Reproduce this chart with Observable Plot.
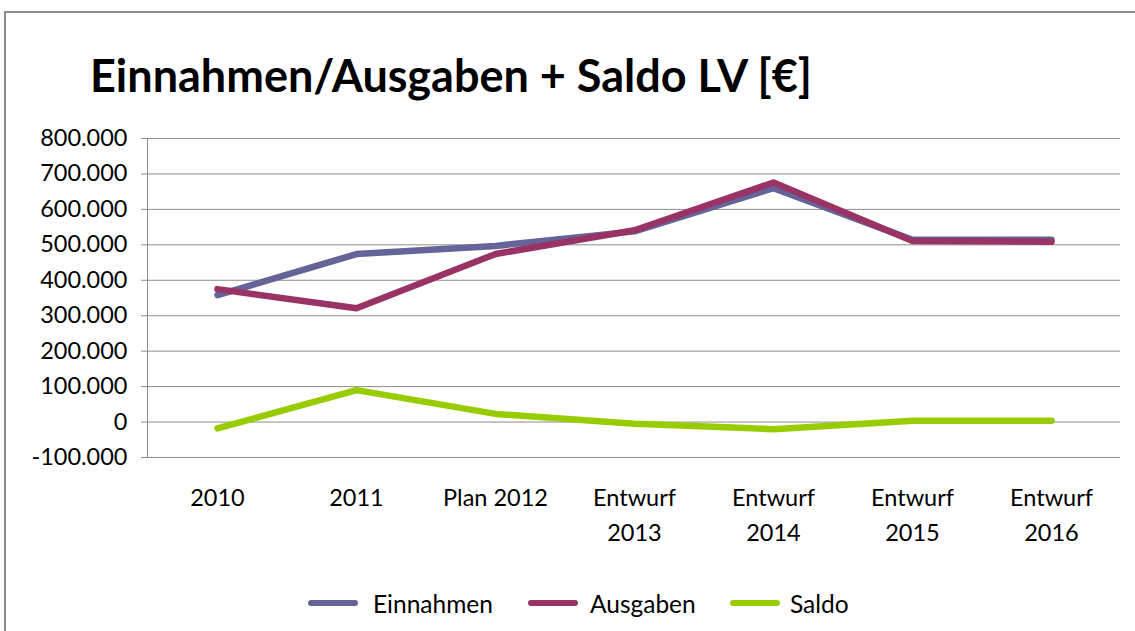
<!DOCTYPE html>
<html>
<head>
<meta charset="utf-8">
<script src="https://cdn.jsdelivr.net/npm/d3@7"></script>
<script src="https://cdn.jsdelivr.net/npm/@observablehq/plot@0.6"></script>
<style>
  html, body { margin: 0; padding: 0; background: #fff; }
  body { width: 1135px; height: 631px; position: relative; overflow: hidden; font-family: Lato, "Open Sans", sans-serif; }
  #border { position: absolute; left: 4px; top: 11px; width: 1140px; height: 640px; border-top: 2px solid #8c8c8c; border-left: 2px solid #8c8c8c; box-sizing: border-box; }
  #title { position: absolute; left: 90px; top: 53px; font-size: 45px; font-weight: 700; line-height: 1; color: #000; white-space: nowrap; }
  #chart { position: absolute; left: 0; top: 0; }
  #legend { position: absolute; top: 588px; left: 0; width: 1135px; height: 30px; font-size: 24.5px; color: #000; }
  .item { position: absolute; top: 0; display: flex; align-items: center; height: 30px; }
  .sw { width: 50px; height: 6px; border-radius: 3px; margin-right: 8px; }
</style>
</head>
<body>
<div id="border"></div>
<div id="title">Einnahmen/Ausgaben + Saldo LV [€]</div>
<div id="chart"></div>
<div id="legend"></div>
<script>
const categories = ["2010", "2011", "Plan 2012", "Entwurf\n2013", "Entwurf\n2014", "Entwurf\n2015", "Entwurf\n2016"];
const einnahmen = [358000, 474000, 497000, 538000, 660000, 514000, 514000];
const ausgaben  = [375000, 321000, 474000, 541000, 676000, 511000, 509000];
const saldo     = [-18000, 90000, 23000, -5000, -20000, 4000, 4000];
const yTicks = [-100000, 0, 100000, 200000, 300000, 400000, 500000, 600000, 700000, 800000];
const seriesNames = ["Einnahmen", "Ausgaben", "Saldo"];
const seriesColors = ["#646499", "#993366", "#99cc00"];

const seriesValues = [einnahmen, ausgaben, saldo];
const rows = seriesNames.flatMap((s, si) => categories.map((c, i) => ({series: s, cat: c, value: seriesValues[si][i]})));

const fmt = d => d === 0 ? "0" : d3.format(",")(d).replace(/,/g, ".").replace("−", "-");

const plot = Plot.plot({
  width: 1135,
  height: 560,
  marginTop: 138,
  marginBottom: 103,
  marginLeft: 147,
  marginRight: 15,
  style: {fontFamily: "Lato, 'Open Sans', sans-serif", fontSize: "23.5px", color: "#000", background: "transparent"},
  x: {type: "point", domain: categories, padding: 0.5, align: 0.5},
  y: {domain: [-100000, 800000]},
  color: {domain: seriesNames, range: seriesColors},
  marks: [
    Plot.gridY(yTicks, {stroke: "#8c8c8c", strokeOpacity: 1, strokeWidth: 1}),
    Plot.frame({anchor: "left", stroke: "#8c8c8c", strokeWidth: 1}),
    Plot.axisY(yTicks, {tickFormat: fmt, tickSize: 6, tickPadding: 14, stroke: "#8c8c8c", fill: "#000", fontSize: 23.5, label: null}),
    Plot.axisX({tickSize: 0, tickPadding: 24, fontSize: 23.5, lineHeight: 1.48, fill: "#000", label: null}),
    Plot.line(rows, {x: "cat", y: "value", z: "series", stroke: "series", strokeWidth: 6.5, strokeLinecap: "round", strokeLinejoin: "round"})
  ]
});
document.getElementById("chart").appendChild(plot);

const legendPos = [{sw: 308, tx: 373}, {sw: 528, tx: 590}, {sw: 730, tx: 790}];
const legend = document.getElementById("legend");
seriesNames.forEach((name, i) => {
  const item = document.createElement("div");
  item.className = "item";
  item.style.left = legendPos[i].sw + "px";
  const sw = document.createElement("div");
  sw.className = "sw";
  sw.style.background = seriesColors[i];
  sw.style.marginRight = (legendPos[i].tx - legendPos[i].sw - 50) + "px";
  const t = document.createElement("span");
  t.textContent = name;
  item.appendChild(sw);
  item.appendChild(t);
  legend.appendChild(item);
});
</script>
</body>
</html>
